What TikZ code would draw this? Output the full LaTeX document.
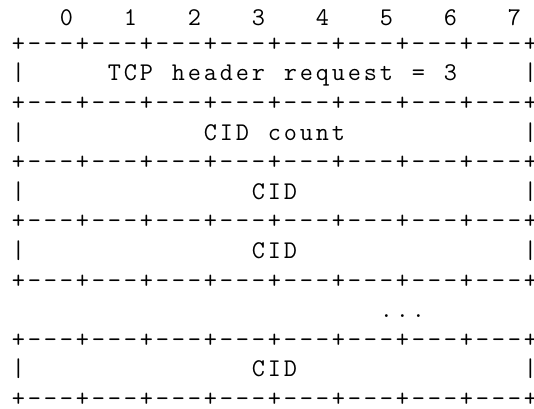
\documentclass[tikz,border=0pt]{standalone}
\newdimen\cellw
\cellw=16pt
% every character sits in a fixed 16pt cell of the grid
\ExplSyntaxOn
\NewDocumentCommand\cells{m}{\tl_map_inline:nn{#1}{\makebox[\cellw]{##1}}}
\ExplSyntaxOff
\newcommand\cellgap[1]{\hspace*{#1\cellw}}
% the right-most column runs into the page edge
\newcommand\lastcell[1]{\makebox[11.5pt][l]{\makebox[\cellw]{#1}}}
\newcommand\ruleline{\cells{+---+---+---+---+---+---+---+---}\lastcell{+}}
\begin{document}
\begin{tikzpicture}[x=1pt,y=-1pt,
  line/.style={anchor=base west,inner sep=0pt,outer sep=0pt,
    font=\fontsize{25.5}{29.6}\selectfont\ttfamily}]
  \useasboundingbox (0,0) rectangle (534,408);
  \def\pitch{29.6}
  \def\first{21.7}
  \node[line] (bits)  at (10.5,25) {\cellgap{3}\cells{0}\cellgap{3}\cells{1}\cellgap{3}\cells{2}\cellgap{3}\cells{3}\cellgap{3}\cells{4}\cellgap{3}\cells{5}\cellgap{3}\cells{6}\cellgap{3}\cells{7}};
  \node[line] (r1)    at (10.5,\first+1*\pitch) {\ruleline};
  \node[line] (req)   at (10.5,\first+2*\pitch) {\cells{|}\cellgap{5}\cells{TCP}\cellgap{1}\cells{header}\cellgap{1}\cells{request}\cellgap{1}\cells{=}\cellgap{1}\cells{3}\cellgap{4}\lastcell{|}};
  \node[line] (r2)    at (10.5,\first+3*\pitch) {\ruleline};
  \node[line] (count) at (10.5,\first+4*\pitch) {\cells{|}\cellgap{11}\cells{CID}\cellgap{1}\cells{count}\cellgap{11}\lastcell{|}};
  \node[line] (r3)    at (10.5,\first+5*\pitch) {\ruleline};
  \node[line] (cid1)  at (10.5,\first+6*\pitch) {\cells{|}\cellgap{14}\cells{CID}\cellgap{14}\lastcell{|}};
  \node[line] (r4)    at (10.5,\first+7*\pitch) {\ruleline};
  \node[line] (cid2)  at (10.5,\first+8*\pitch) {\cells{|}\cellgap{14}\cells{CID}\cellgap{14}\lastcell{|}};
  \node[line] (r5)    at (10.5,\first+9*\pitch) {\ruleline};
  \node[line] (more)  at (10.5,\first+10*\pitch) {\cellgap{23}\cells{...}};
  \node[line] (r6)    at (10.5,\first+11*\pitch) {\ruleline};
  \node[line] (cidn)  at (10.5,\first+12*\pitch) {\cells{|}\cellgap{14}\cells{CID}\cellgap{14}\lastcell{|}};
  \node[line] (r7)    at (10.5,\first+13*\pitch) {\ruleline};
\end{tikzpicture}
\end{document}
